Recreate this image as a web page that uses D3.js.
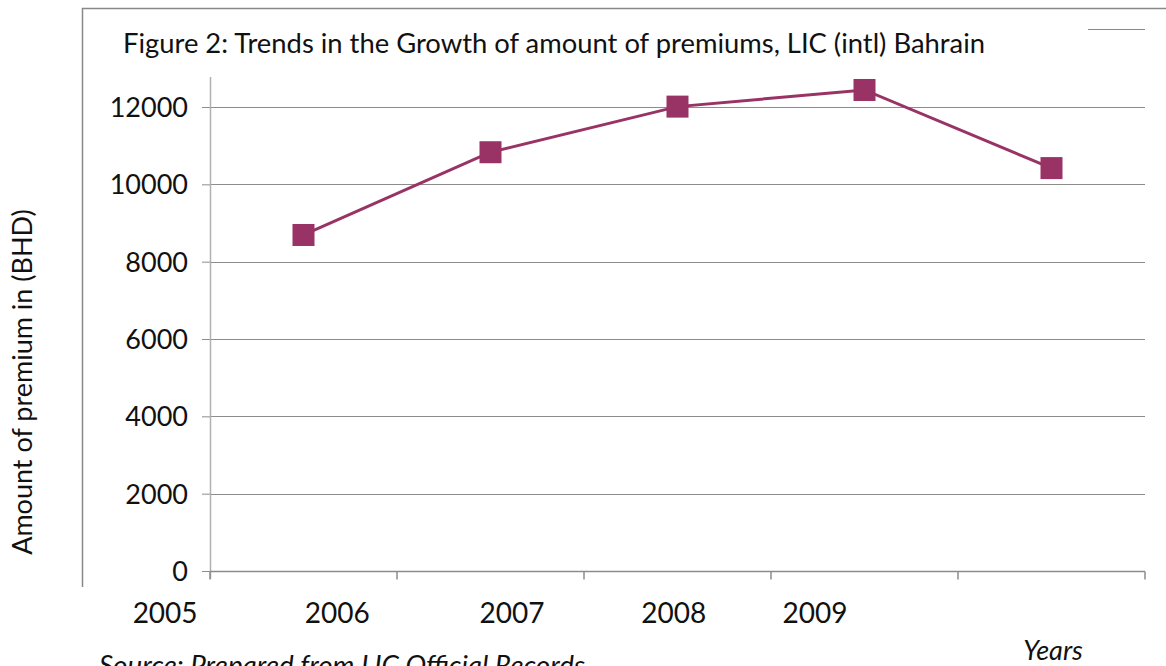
<!DOCTYPE html>
<html><head><meta charset="utf-8">
<script src="https://cdn.jsdelivr.net/npm/d3@7/dist/d3.min.js"></script>
<style>body{margin:0;background:#fff;}svg{display:block;font-family:Lato, "Liberation Sans", sans-serif;}</style>
</head><body>
<svg id="c" width="1166" height="666"></svg>
<script>
const categories = ["2005","2006","2007","2008","2009"];
const premiums = [8690, 10830, 12010, 12440, 10420];
const yTicks = [0, 2000, 4000, 6000, 8000, 10000, 12000];
const yearLabels = ["2005","2006","2007","2008","2009"];
const labelShift = [-0.24, -0.32, -0.385, -0.52, -0.765];

const svg = d3.select("#c");
const W = 1166, H = 666;
const plot = {left: 210, right: 1145, top: 77, bottom: 571};

// outer frame
svg.append("line").attr("x1",82.5).attr("x2",82.5).attr("y1",8).attr("y2",587).attr("stroke","#888").attr("stroke-width",1.5);
svg.append("line").attr("x1",82).attr("x2",W).attr("y1",8.5).attr("y2",8.5).attr("stroke","#888").attr("stroke-width",1.5);
svg.append("line").attr("x1",1088).attr("x2",1145).attr("y1",29.5).attr("y2",29.5).attr("stroke","#888").attr("stroke-width",1);

const x = d3.scaleBand().domain(categories).range([plot.left, plot.right]);
const y = d3.scaleLinear().range([plot.bottom, plot.top]);
y.domain([0, 12000 * (plot.bottom - plot.top) / (plot.bottom - 107)]);

// gridlines
svg.append("g").selectAll("line").data(yTicks.filter(d=>d>0)).join("line")
  .attr("x1", plot.left).attr("x2", plot.right)
  .attr("y1", d=>Math.round(y(d))+0.5).attr("y2", d=>Math.round(y(d))+0.5)
  .attr("stroke","#8c8c8c").attr("stroke-width",1);

// y axis
const yAxis = svg.append("g").attr("transform",`translate(${plot.left},0)`)
  .call(d3.axisLeft(y).tickValues(yTicks).tickSize(8).tickPadding(14).tickFormat(d3.format("d")));
yAxis.select(".domain").remove();
yAxis.append("line").attr("x1",0.5).attr("x2",0.5).attr("y1",plot.top).attr("y2",plot.bottom+8).attr("stroke","#b0b0b0").attr("stroke-width",1.5);
yAxis.selectAll(".tick line").attr("stroke","#8c8c8c");
yAxis.selectAll(".tick text").attr("font-size",27).attr("fill","#111").attr("font-family","Lato").attr("dy","0.35em");

// x axis
const xAxisG = svg.append("g").attr("transform",`translate(0,${Math.round(y(0))+0.5})`);
xAxisG.append("line").attr("x1",plot.left).attr("x2",plot.right).attr("stroke","#8c8c8c").attr("stroke-width",1.5);
const boundaries = categories.map(c=>x(c)).concat([x.range()[1]]);
xAxisG.selectAll("line.t").data(boundaries).join("line").attr("class","t")
  .attr("x1",d=>d).attr("x2",d=>d).attr("y1",0).attr("y2",8).attr("stroke","#8c8c8c").attr("stroke-width",1.5);

// year labels (manually offset text boxes in the original)
svg.append("g").selectAll("text").data(yearLabels).join("text")
  .attr("x",(d,i)=>x(categories[i]) + labelShift[i]*x.bandwidth())
  .attr("y",623).attr("text-anchor","middle").attr("font-size",28).attr("fill","#111").text(d=>d);

// line + markers
const cx = (d,i)=>x(categories[i]) + x.bandwidth()/2;
svg.append("path").datum(premiums)
  .attr("d", d3.line().x(cx).y(d=>y(d)))
  .attr("fill","none").attr("stroke","#993366").attr("stroke-width",3);
svg.append("g").selectAll("rect").data(premiums).join("rect")
  .attr("x",(d,i)=>cx(d,i)-11).attr("y",d=>y(d)-11).attr("width",22).attr("height",22)
  .attr("fill","#993366");

// title
svg.append("text").attr("x",123).attr("y",53).attr("font-size",26).attr("fill","#111")
  .attr("textLength",862).attr("lengthAdjust","spacingAndGlyphs")
  .text("Figure 2: Trends in the Growth of amount of premiums, LIC (intl) Bahrain");

// y label
svg.append("text").attr("transform","translate(32,382) rotate(-90)").attr("text-anchor","middle")
  .attr("font-size",27).attr("fill","#111").text("Amount of premium in (BHD)");

// Years
svg.append("text").attr("x",1053).attr("y",660).attr("text-anchor","middle").attr("font-size",27)
  .attr("font-style","italic").attr("fill","#111").text("Years");

// Source
svg.append("text").attr("x",99).attr("y",675).attr("font-size",27)
  .attr("font-style","italic").attr("fill","#111")
  .attr("textLength",486).attr("lengthAdjust","spacingAndGlyphs")
  .text("Source: Prepared from LIC Official Records");
</script>
</body></html>
